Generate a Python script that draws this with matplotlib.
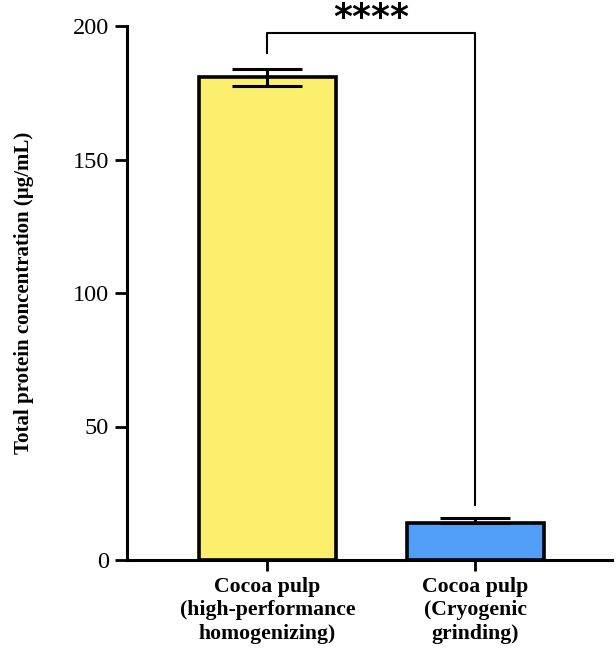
import matplotlib
matplotlib.use("Agg")
import matplotlib.pyplot as plt
import numpy as np

# data
groups = ["Cocoa pulp\n(high-performance\nhomogenizing)", "Cocoa pulp\n(Cryogenic\ngrinding)"]
means = [180.8, 14.0]
err_low = [3.2, 0.0]
err_high = [3.2, 1.8]
colors = ["#FCEF6E", "#509EF5"]
yticks = [0, 50, 100, 150, 200]
sig_label = "****"

plt.rcParams['font.family'] = ['Liberation Serif', 'DejaVu Serif']

fig = plt.figure(figsize=(6.16, 6.51), dpi=100)
ax = fig.add_axes([127/616, 1-560/651, (612-127)/616, (560-26)/651])

x = np.arange(len(groups))
ax.bar(x, means, width=0.66, color=colors, edgecolor="black", linewidth=2.6, zorder=2)
ax.errorbar(x, means, yerr=[err_low, err_high], fmt="none", ecolor="black", elinewidth=2.2,
            capsize=25, capthick=2.2, zorder=3)

# significance bracket
y_top = 197.5
ax.plot([x[0], x[0], x[1], x[1]], [190, y_top, y_top, 20.5], color="black",
        lw=1.5, clip_on=False, zorder=4)
ax.text((x[0] + x[1]) / 2, 199.3, sig_label, ha="center", va="baseline", fontsize=26,
        fontweight="bold", family="DejaVu Sans", clip_on=False)

ax.set_xlim(-0.677, 1.66)
ax.set_ylim(0, 200)
ax.set_yticks(yticks)
ax.set_yticklabels([str(t) for t in yticks], fontsize=17.5)
ax.set_xticks(x)
ax.set_xticklabels(groups, fontsize=15.7, fontweight="bold", linespacing=1.25)
ax.set_ylabel("Total protein concentration (µg/mL)", fontsize=15, fontweight="bold", labelpad=28)

for side in ["top", "right"]:
    ax.spines[side].set_visible(False)
for side in ["left", "bottom"]:
    ax.spines[side].set_linewidth(2.2)
ax.tick_params(axis="y", length=9, width=2.0, pad=4)
ax.tick_params(axis="x", length=8, width=2.0, pad=4)

fig.savefig("out.png", dpi=100)
